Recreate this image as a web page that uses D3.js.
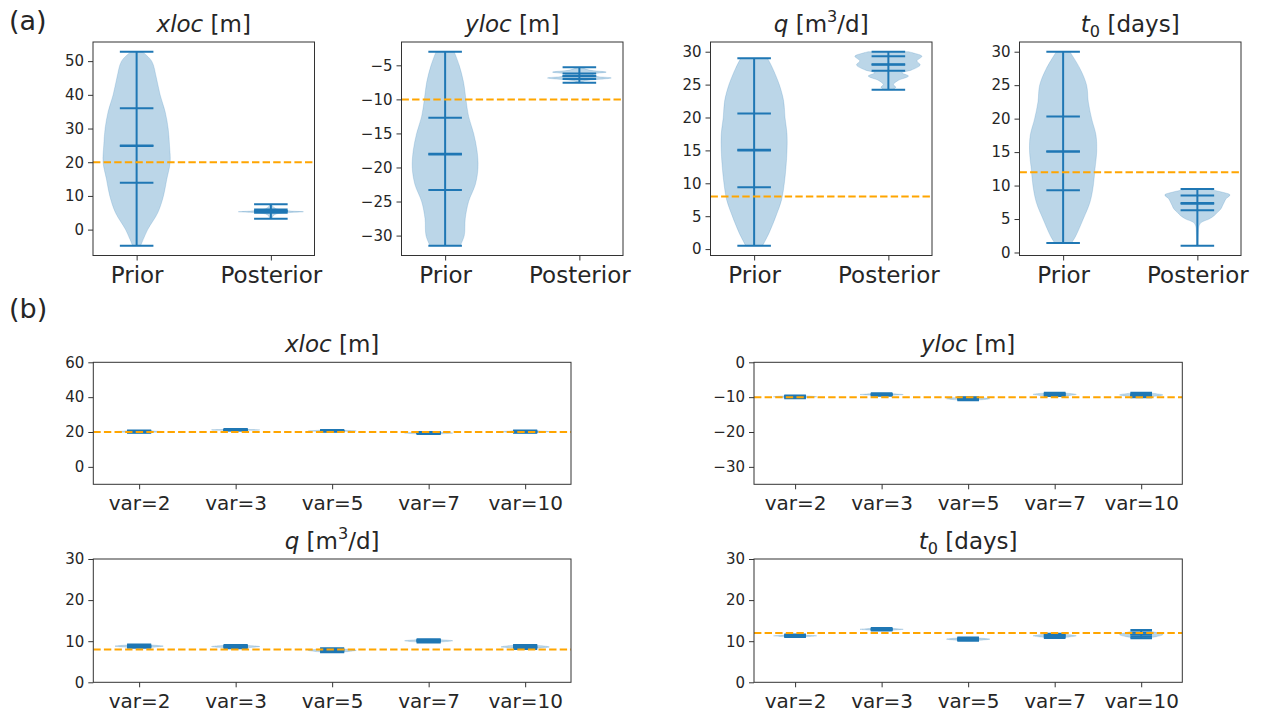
<!DOCTYPE html>
<html><head><meta charset="utf-8">
<script src="https://cdn.jsdelivr.net/npm/d3@7"></script>
<style>
body{margin:0;background:#fff}
svg{display:block}
text{font-family:"DejaVu Sans",sans-serif;fill:#262626}
</style>
</head><body>
<svg id="c" width="1263" height="715"></svg>
<script>
// ---------------- DATA ----------------
const topGroups = ["Prior", "Posterior"];
const varLabels = ["var=2", "var=3", "var=5", "var=7", "var=10"];
const trueValues = [20, -10, 8, 12]; // xloc, yloc, q, t0

// stats order: min, q1, median, mean, q3, max
const xlocPriorStats = [-4.8, 13.9, 24.8, 25.0, 36.0, 52.8];
const xlocPostStats  = [3.2, 5.0, 5.5, 5.45, 6.0, 7.5];
const ylocPriorStats = [-31.5, -23.3, -18.0, -18.1, -12.7, -3.0];
const ylocPostStats  = [-7.55, -7.0, -6.6, -6.55, -6.2, -5.3];
const qPriorStats    = [0.5, 9.4, 15.1, 15.0, 20.6, 29.0];
const qPostStats     = [24.2, 27.1, 28.1, 28.0, 29.3, 30.0];
const t0PriorStats   = [1.4, 9.3, 15.1, 15.1, 20.3, 30.0];
const t0PostStats    = [1.0, 6.3, 7.4, 7.3, 8.5, 9.5];

// violin outlines: [value, relative half-width]
const xlocPriorShape = [[-4.8,0.12],[0,0.33],[5,0.63],[10,0.8],[15,0.9],[20,1.0],[25,0.98],[30,0.94],[35,0.85],[40,0.7],[45,0.59],[50,0.45],[52.8,0.17]];
const xlocPostShape  = [[3.2,0.03],[4.0,0.06],[4.6,0.15],[5.0,0.45],[5.3,0.97],[5.5,0.6],[5.8,0.35],[6.2,0.15],[7.0,0.05],[7.5,0.02]];
const ylocPriorShape = [[-31.5,0.45],[-30,0.57],[-27.5,0.6],[-25,0.7],[-22.5,0.9],[-20,0.98],[-17.5,0.95],[-15,0.85],[-12.5,0.7],[-10,0.62],[-7.5,0.55],[-5,0.42],[-3,0.27]];
const ylocPostShape  = [[-7.6,0.02],[-7.3,0.15],[-6.85,0.95],[-6.6,0.5],[-6.3,0.4],[-6.0,0.8],[-5.7,0.3],[-5.3,0.05]];
const qPriorShape    = [[0.5,0.25],[2.5,0.45],[5,0.65],[7.5,0.82],[10,0.9],[12.5,0.95],[15,0.98],[17.5,0.98],[20,0.92],[22.5,0.88],[25,0.75],[27.5,0.55],[29,0.4]];
const qPostShape     = [[24.2,0.12],[24.6,0.22],[25.0,0.15],[25.6,0.28],[26.3,0.6],[26.8,0.4],[27.2,0.68],[28.0,0.95],[28.6,0.85],[29.3,1.0],[29.8,0.75],[30.0,0.6]];
const t0PriorShape   = [[1.4,0.25],[2.5,0.38],[5,0.6],[7.5,0.8],[10,0.9],[12.5,0.95],[15,1.0],[17.5,0.98],[20,0.85],[22.5,0.75],[25,0.7],[27.5,0.5],[30,0.2]];
const t0PostShape    = [[1.0,0.02],[3.0,0.03],[4.0,0.05],[4.5,0.12],[5.0,0.35],[5.5,0.5],[6.0,0.6],[6.5,0.7],[7.0,0.75],[7.5,0.8],[8.0,0.85],[8.6,0.97],[9.0,0.75],[9.5,0.3]];

// sensitivity (b): stats per var (min, q1, median, mean, q3, max)
const xlocVarStats = [[19.6,19.9,20.2,20.2,20.5,20.8],[20.8,21.0,21.2,21.2,21.4,21.7],[20.2,20.4,20.6,20.6,20.9,21.2],[18.8,19.1,19.4,19.4,19.7,20.0],[19.6,19.9,20.2,20.2,20.5,20.8]];
const ylocVarStats = [[-10.3,-10.1,-9.9,-9.9,-9.7,-9.5],[-9.6,-9.4,-9.25,-9.25,-9.1,-8.9],[-10.9,-10.7,-10.45,-10.45,-10.2,-10.0],[-9.7,-9.5,-9.2,-9.2,-8.95,-8.7],[-10.0,-9.7,-9.35,-9.35,-9.0,-8.7]];
const qVarStats    = [[8.4,8.6,8.8,8.8,9.0,9.2],[8.3,8.5,8.7,8.7,8.9,9.1],[7.3,7.5,7.8,7.8,8.0,8.3],[9.7,9.9,10.1,10.1,10.3,10.5],[8.1,8.4,8.6,8.6,8.9,9.1]];
const t0VarStats   = [[11.0,11.15,11.3,11.3,11.45,11.6],[12.6,12.75,12.9,12.9,13.05,13.2],[10.1,10.3,10.5,10.5,10.7,10.9],[10.8,11.05,11.3,11.3,11.55,11.8],[10.7,11.1,11.6,11.6,12.1,12.7]];
const smallBodyWidths = [0.08, 0.7, 1.0, 0.7, 0.08]; // at min, q1, median, q3, max

// tick values
const xlocTopTicks = [0,10,20,30,40,50];
const ylocTopTicks = [-30,-25,-20,-15,-10,-5];
const qTopTicks    = [0,5,10,15,20,25,30];
const t0TopTicks   = [0,5,10,15,20,25,30];
const xlocBotTicks = [0,20,40,60];
const ylocBotTicks = [-30,-20,-10,0];
const qBotTicks    = [0,10,20,30];
const t0BotTicks   = [0,10,20,30];
const xlocBotDomain = [-10,60];
const ylocBotDomain = [-35,0];
const qBotDomain    = [0,30];
const t0BotDomain   = [0,30];

// titles (rich text pieces)
const titleXloc = [{t:"xloc",i:1},{t:" [m]"}];
const titleYloc = [{t:"yloc",i:1},{t:" [m]"}];
const titleQ    = [{t:"q",i:1},{t:" [m"},{t:"3",sup:1},{t:"/d]"}];
const titleT0   = [{t:"t",i:1},{t:"0",sub:1},{t:" [days]"}];

// ---------------- DRAW ----------------
const BLUE = "#1f77b4", ORANGE = "#ffa500";
const svg = d3.select("#c");
const fmt = v => d3.format("")(v).replace("-", "\u2212");

function addTitle(g, pieces, x, y, size) {
  const t = g.append("text").attr("x", x).attr("y", y).attr("text-anchor", "middle").style("font-size", size + "px");
  pieces.forEach(p => {
    const s = t.append("tspan").text(p.t);
    if (p.i) s.style("font-style", "italic");
    if (p.sup) { s.attr("dy", -0.42*size).style("font-size", (size*0.7)+"px"); }
    if (p.sub) { s.attr("dy", 0.22*size).style("font-size", (size*0.7)+"px"); }
  });
  // fix baseline after sup/sub
  const nodes = t.selectAll("tspan").nodes();
  pieces.forEach((p, k) => {
    if ((p.sup || p.sub) && nodes[k+1]) d3.select(nodes[k+1]).attr("dy", p.sup ? 0.42*size : -0.22*size);
  });
}

function violin(g, x, y, pos, stats, shape, lw) {
  const hw = x(pos + 0.25) - x(pos);
  const cap = x(pos + 0.125) - x(pos);
  const cx = x(pos);
  const area = d3.area().curve(d3.curveCatmullRom)
    .y(d => y(d[0])).x0(d => cx - d[1]*hw).x1(d => cx + d[1]*hw);
  g.append("path").attr("d", area(shape)).attr("fill", BLUE).attr("fill-opacity", 0.3)
    .attr("stroke", BLUE).attr("stroke-opacity", 0.3).attr("stroke-width", 0.6);
  g.append("line").attr("x1", cx).attr("x2", cx).attr("y1", y(stats[0])).attr("y2", y(stats[5]))
    .attr("stroke", BLUE).attr("stroke-width", lw);
  stats.forEach(v => {
    g.append("line").attr("x1", cx - cap).attr("x2", cx + cap).attr("y1", y(v)).attr("y2", y(v))
      .attr("stroke", BLUE).attr("stroke-width", lw);
  });
}

function panel(cfg) {
  const [L, T, W, H] = cfg.box;
  const g = svg.append("g");
  const x = d3.scaleLinear().domain(cfg.xdom).range([L, L + W]);
  const y = d3.scaleLinear().domain(cfg.ydom).range([T + H, T]);
  const clip = "clip" + Math.round(L) + "_" + Math.round(T);
  svg.append("clipPath").attr("id", clip).append("rect").attr("x", L).attr("y", T).attr("width", W).attr("height", H);
  const pg = g.append("g").attr("clip-path", `url(#${clip})`);
  cfg.items.forEach((it, k) => violin(pg, x, y, k + 1, it.stats, it.shape, cfg.lw));
  pg.append("line").attr("x1", L).attr("x2", L + W).attr("y1", y(cfg.truth)).attr("y2", y(cfg.truth))
    .attr("stroke", ORANGE).attr("stroke-width", 2).attr("stroke-dasharray", "7.4,3.2");
  // axes
  const ya = g.append("g").attr("transform", `translate(${L},0)`)
    .call(d3.axisLeft(y).tickValues(cfg.yticks).tickFormat(fmt).tickSize(5).tickPadding(4));
  ya.select(".domain").remove();
  ya.selectAll("text").style("font-size", "15px").style("font-family", "DejaVu Sans");
  ya.selectAll("line").attr("stroke", "#333").attr("stroke-width", 1);
  const xa = g.append("g").attr("transform", `translate(0,${T + H})`)
    .call(d3.axisBottom(x).tickValues(cfg.items.map((d, k) => k + 1)).tickFormat((d, k) => cfg.labels[k]).tickSize(5).tickPadding(cfg.xpad));
  xa.select(".domain").remove();
  xa.selectAll("text").style("font-size", cfg.xfs + "px").style("font-family", "DejaVu Sans");
  xa.selectAll("line").attr("stroke", "#333").attr("stroke-width", 1);
  g.append("rect").attr("x", L).attr("y", T).attr("width", W).attr("height", H)
    .attr("fill", "none").attr("stroke", "#333").attr("stroke-width", 1);
  addTitle(g, cfg.title, L + W / 2, T - 10, 23);
}

function topYDomain(statsA, statsB) {
  const lo = Math.min(statsA[0], statsB[0]), hi = Math.max(statsA[5], statsB[5]);
  const m = (hi - lo) * 0.05;
  return [lo - m, hi + m];
}
function xDomain(n) { const lo = 0.75, hi = n + 0.25, m = (hi - lo) * 0.05; return [lo - m, hi + m]; }

const topLefts = [93, 401.5, 710.5, 1019.5];
const topDefs = [
  {title: titleXloc, st:[xlocPriorStats, xlocPostStats], sh:[xlocPriorShape, xlocPostShape], truth: trueValues[0], yticks: xlocTopTicks},
  {title: titleYloc, st:[ylocPriorStats, ylocPostStats], sh:[ylocPriorShape, ylocPostShape], truth: trueValues[1], yticks: ylocTopTicks},
  {title: titleQ,    st:[qPriorStats, qPostStats],       sh:[qPriorShape, qPostShape],       truth: trueValues[2], yticks: qTopTicks},
  {title: titleT0,   st:[t0PriorStats, t0PostStats],     sh:[t0PriorShape, t0PostShape],     truth: trueValues[3], yticks: t0TopTicks}
];
topDefs.forEach((d, i) => panel({
  box: [topLefts[i], 42, 221.5, 213.5],
  xdom: xDomain(2), ydom: topYDomain(d.st[0], d.st[1]),
  items: d.st.map((s, k) => ({stats: s, shape: d.sh[k]})),
  labels: topGroups, truth: d.truth, yticks: d.yticks, title: d.title, lw: 2, xfs: 23, xpad: 6
}));

function smallShape(s) { return [s[0], s[1], s[2], s[4], s[5]].map((v, k) => [v, smallBodyWidths[k]]); }
const botDefs = [
  {title: titleXloc, st: xlocVarStats, truth: trueValues[0], yticks: xlocBotTicks, ydom: xlocBotDomain, box: [93.3, 362.3, 477.7, 122]},
  {title: titleYloc, st: ylocVarStats, truth: trueValues[1], yticks: ylocBotTicks, ydom: ylocBotDomain, box: [754, 362.3, 428.3, 122]},
  {title: titleQ,    st: qVarStats,    truth: trueValues[2], yticks: qBotTicks,    ydom: qBotDomain,    box: [93.3, 559, 477.7, 123.3]},
  {title: titleT0,   st: t0VarStats,   truth: trueValues[3], yticks: t0BotTicks,   ydom: t0BotDomain,   box: [754, 559, 428.3, 123.3]}
];
botDefs.forEach(d => panel({
  box: d.box, xdom: xDomain(5), ydom: d.ydom,
  items: d.st.map(s => ({stats: s, shape: smallShape(s)})),
  labels: varLabels, truth: d.truth, yticks: d.yticks, title: d.title, lw: 2, xfs: 20, xpad: 6.5
}));

svg.append("text").attr("x", 9).attr("y", 30).style("font-size", "27px").text("(a)");
svg.append("text").attr("x", 9).attr("y", 318).style("font-size", "27px").text("(b)");
</script>
</body></html>
